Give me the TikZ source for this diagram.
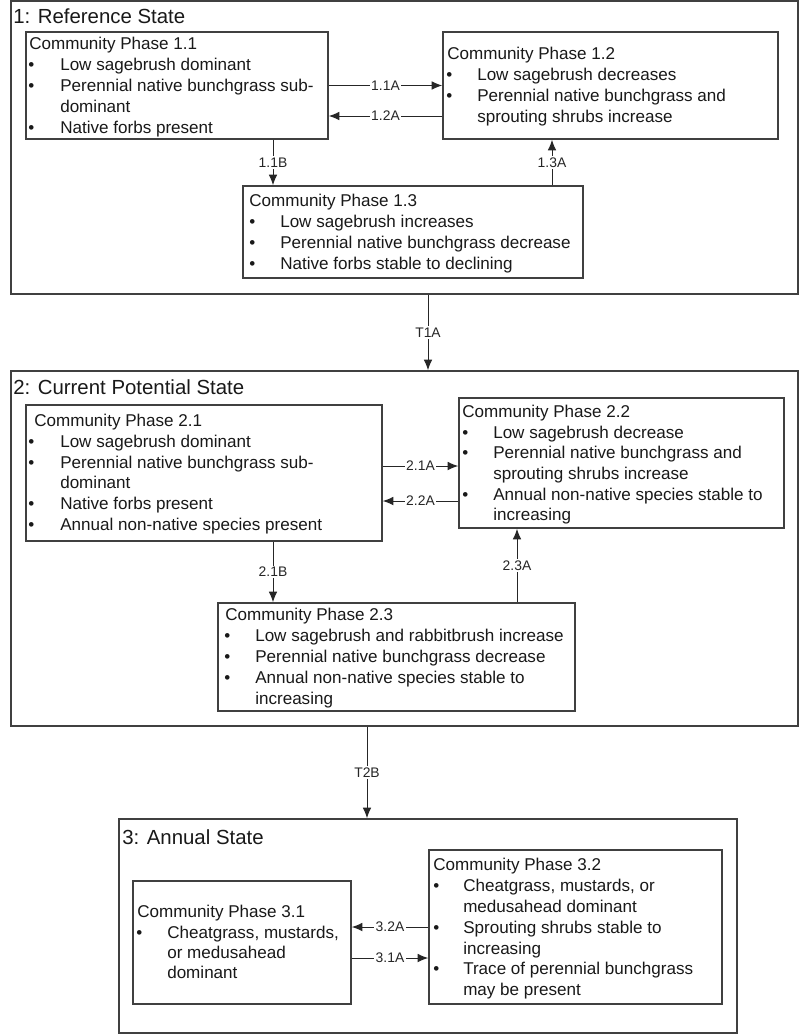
\documentclass[tikz,border=0pt]{standalone}
\usepackage{fontspec}
\setmainfont{Liberation Sans}
\usetikzlibrary{fit,arrows.meta}
\newcommand\tline[4]{\node[txt] (#1) at (#2,#3) {#4};}
\newcommand\bline[5]{\node[txt] (#1b) at (#2,#4) {•}; \node[txt] (#1) at (#3,#4) {#5};}
\begin{document}
\begin{tikzpicture}[x=0.75pt,y=-0.75pt,
  statebox/.style={draw=black!75, line width=1.1pt, inner sep=0pt},
  phasebox/.style={draw=black!75, line width=1.1pt, inner sep=0pt},
  txt/.style={anchor=base west, inner sep=0pt, font=\fontsize{12.8pt}{15pt}\selectfont, text=black!90},
  stitle/.style={anchor=base west, inner sep=0pt, font=\fontsize{15.3pt}{18pt}\selectfont, text=black!90},
  arr/.style={draw=black!85, line width=0.75pt, -{Latex[length=8pt,width=6.5pt]}},
  lbl/.style={fill=white, inner sep=1pt, font=\fontsize{10.4pt}{12pt}\selectfont, text=black!85, midway}]
\useasboundingbox (0,0) rectangle (800,1036);
\fill[white] (0,0) rectangle (800,1036);

% ---------- State 1 ----------
\node[statebox, fit={(11,1) (798,294)}] (s1) {};
\node[stitle] (s1t) at (13,23) {1: Reference State};

\node[phasebox, fit={(26,32) (328,139)}] (p11) {};
\tline{p11t}{29}{49}{Community Phase 1.1}
\bline{p11a}{28}{60}{70}{Low sagebrush dominant}
\bline{p11b}{28}{60}{91}{Perennial native bunchgrass sub-}
\tline{p11c}{60}{112}{dominant}
\bline{p11d}{28}{60}{133}{Native forbs present}

\node[phasebox, fit={(443,32) (778,139)}] (p12) {};
\tline{p12t}{447}{59}{Community Phase 1.2}
\bline{p12a}{446}{477}{80}{Low sagebrush decreases}
\bline{p12b}{446}{477}{101}{Perennial native bunchgrass and}
\tline{p12c}{477}{122}{sprouting shrubs increase}

\node[phasebox, fit={(243,186) (583,278)}] (p13) {};
\tline{p13t}{249}{206}{Community Phase 1.3}
\bline{p13a}{249}{280}{227}{Low sagebrush increases}
\bline{p13b}{249}{280}{248}{Perennial native bunchgrass decrease}
\bline{p13c}{249}{280}{269}{Native forbs stable to declining}

\coordinate (r12a) at (0,116);
\coordinate (c11b) at (273,0);
\coordinate (c13a) at (552,0);
\draw[arr] (p11.east) -- (p12.west) node[lbl] {1.1A};
\draw[arr] (p12.west |- r12a) -- (p11.east |- r12a) node[lbl] {1.2A};
\draw[arr] (p11.south -| c11b) -- (p13.north -| c11b) node[lbl] {1.1B};
\draw[arr] (p13.north -| c13a) -- (p12.south -| c13a) node[lbl] {1.3A};

% ---------- State 2 ----------
\node[statebox, fit={(11,371) (798,726)}] (s2) {};
\node[stitle] (s2t) at (13,394) {2: Current Potential State};

\coordinate (ct1a) at (428,0);
\draw[arr] (s1.south -| ct1a) -- (s2.north -| ct1a) node[lbl] {T1A};

\node[phasebox, fit={(26,405) (382,541)}] (p21) {};
\tline{p21t}{34}{426}{Community Phase 2.1}
\bline{p21a}{28}{60}{447}{Low sagebrush dominant}
\bline{p21b}{28}{60}{468}{Perennial native bunchgrass sub-}
\tline{p21c}{60}{488}{dominant}
\bline{p21d}{28}{60}{509}{Native forbs present}
\bline{p21e}{28}{60}{530}{Annual non-native species present}

\node[phasebox, fit={(459,398) (784,528)}] (p22) {};
\tline{p22t}{462}{417}{Community Phase 2.2}
\bline{p22a}{462}{493}{438}{Low sagebrush decrease}
\bline{p22b}{462}{493}{458}{Perennial native bunchgrass and}
\tline{p22c}{493}{479}{sprouting shrubs increase}
\bline{p22d}{462}{493}{500}{Annual non-native species stable to}
\tline{p22e}{493}{520}{increasing}

\node[phasebox, fit={(218,603) (575,711)}] (p23) {};
\tline{p23t}{225}{620}{Community Phase 2.3}
\bline{p23a}{224}{255}{641}{Low sagebrush and rabbitbrush increase}
\bline{p23b}{224}{255}{662}{Perennial native bunchgrass decrease}
\bline{p23c}{224}{255}{683}{Annual non-native species stable to}
\tline{p23d}{255}{704}{increasing}

\coordinate (r21a) at (0,466);
\coordinate (r22a) at (0,501);
\coordinate (c21b) at (273,0);
\coordinate (c23a) at (517,0);
\draw[arr] (p21.east |- r21a) -- (p22.west |- r21a) node[lbl] {2.1A};
\draw[arr] (p22.west |- r22a) -- (p21.east |- r22a) node[lbl] {2.2A};
\draw[arr] (p21.south -| c21b) -- (p23.north -| c21b) node[lbl] {2.1B};
\draw[arr] (p23.north -| c23a) -- (p22.south -| c23a) node[lbl] {2.3A};

% ---------- State 3 ----------
\node[statebox, fit={(119,819) (737,1033)}] (s3) {};
\node[stitle] (s3t) at (122,844) {3: Annual State};

\coordinate (ct2b) at (367,0);
\draw[arr] (s2.south -| ct2b) -- (s3.north -| ct2b) node[lbl] {T2B};

\node[phasebox, fit={(133,881) (351,1004)}] (p31) {};
\tline{p31t}{137}{917}{Community Phase 3.1}
\bline{p31a}{136}{167}{938}{Cheatgrass, mustards,}
\tline{p31b}{167}{958}{or medusahead}
\tline{p31c}{167}{978}{dominant}

\node[phasebox, fit={(429,850) (722,1004)}] (p32) {};
\tline{p32t}{433}{870}{Community Phase 3.2}
\bline{p32a}{433}{463}{891}{Cheatgrass, mustards, or}
\tline{p32b}{463}{912}{medusahead dominant}
\bline{p32c}{433}{463}{933}{Sprouting shrubs stable to}
\tline{p32d}{463}{954}{increasing}
\bline{p32e}{433}{463}{974}{Trace of perennial bunchgrass}
\tline{p32f}{463}{995}{may be present}

\coordinate (r32a) at (0,927);
\coordinate (r31a) at (0,958);
\draw[arr] (p32.west |- r32a) -- (p31.east |- r32a) node[lbl] {3.2A};
\draw[arr] (p31.east |- r31a) -- (p32.west |- r31a) node[lbl] {3.1A};
\end{tikzpicture}
\end{document}
